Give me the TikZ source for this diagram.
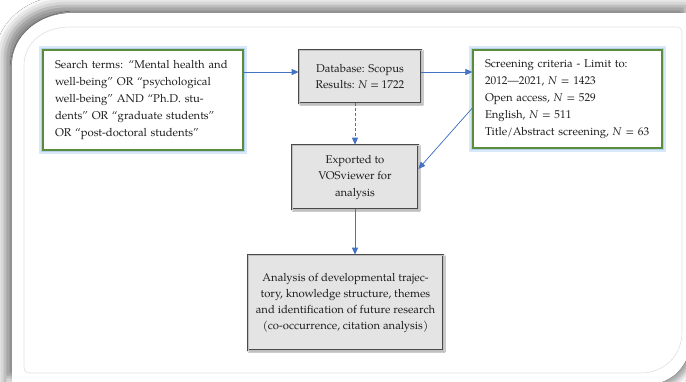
\documentclass[tikz,border=0pt]{standalone}
\usepackage{fontspec}
\setmainfont{texgyrepagella}[Extension=.otf,UprightFont=*-regular,ItalicFont=*-italic,BoldFont=*-bold,BoldItalicFont=*-bolditalic]
\usetikzlibrary{arrows.meta,shadows.blur}
\definecolor{arrowblue}{HTML}{4472C4}
\definecolor{boxgreen}{HTML}{5B8C3A}
\definecolor{glowblue}{HTML}{B4D2F0}
\definecolor{boxgray}{HTML}{E4E4E4}
\definecolor{boxedge}{HTML}{4A4A4A}
\definecolor{panelline}{HTML}{E0E0E0}
\definecolor{textcol}{HTML}{1E1E1E}
\begin{document}
\begin{tikzpicture}[x=1pt,y=-1pt,
  greenbox/.style={draw=boxgreen, line width=1.3pt, fill=white,
    preaction={draw=glowblue!50, line width=8pt},
    preaction={draw=glowblue, line width=4.5pt},
    inner sep=0pt, text=textcol, font=\fontsize{11.3}{17}\selectfont, align=left},
  graybox/.style={draw=boxedge, line width=0.7pt, double=gray!50, double distance=1pt,
    fill=boxgray, inner sep=0pt, text=textcol, align=center,
    blur shadow={shadow xshift=1.2pt, shadow yshift=-1.2pt, shadow blur radius=1.5pt, shadow opacity=40}},
  link/.style={draw=arrowblue, fill=arrowblue, line width=0.7pt, -{Triangle[width=6pt,length=7pt,fill=arrowblue]}},
  dashlink/.style={draw=arrowblue, line width=0.8pt, dash pattern=on 3pt off 2pt,
    -{Triangle[width=6pt,length=7pt,fill=arrowblue,color=arrowblue]}}
]
\useasboundingbox (0,0) rectangle (686,381);
\fill[white] (0,0) rectangle (686,381);
% panel shadows
\path[fill=white, blur shadow={shadow xshift=4pt, shadow yshift=-4pt, shadow blur radius=6pt, shadow opacity=40}]
  (12,395) -- (12,65) .. controls (12,35) and (40,13) .. (72,13) -- (692,13) -- (692,330)
  .. controls (692,362) and (676,381) .. (652,384) -- (12,384) -- cycle;
\path[fill=white, blur shadow={shadow xshift=-7pt, shadow yshift=7pt, shadow blur radius=10pt, shadow opacity=50}]
  (12,395) -- (12,65) .. controls (12,35) and (40,13) .. (72,13) -- (692,13) -- (692,330)
  .. controls (692,362) and (676,381) .. (652,384) -- (12,384) -- cycle;
\draw[panelline, line width=0.6pt]
  (24,366) -- (24,66) .. controls (24,42) and (44,27) .. (70,27) -- (676,27)
  .. controls (680,27) and (682,29) .. (682,33) -- (682,332)
  .. controls (682,356) and (664,373) .. (640,373) -- (30,373)
  .. controls (26,373) and (24,371) .. (24,366);
% boxes
\node[greenbox, minimum width=200pt, minimum height=100pt, text width=176pt] (b1) at (143,100)
  {Search terms: “Mental health and\\ well-being” OR “psychological\\ well-being” AND “Ph.D. stu-\\ dents” OR “graduate students”\\ OR “post-doctoral students”};
\node[graybox, minimum width=122pt, minimum height=53pt, font=\fontsize{11.3}{15.5}\selectfont] (b2) at (360,76.5)
  {Database: Scopus\\ Results: \textit{N} = 1722};
\node[greenbox, minimum width=189pt, minimum height=98pt, text width=165pt] (b3) at (567.5,99)
  {Screening criteria - Limit to:\\ 2012—2021, \textit{N} = 1423\\ Open access, \textit{N} = 529\\ English, \textit{N} = 511\\ Title/Abstract screening, \textit{N} = 63};
\node[graybox, minimum width=126pt, minimum height=64pt, font=\fontsize{11.3}{16.5}\selectfont] (b4) at (355,177)
  {Exported to\\ VOSviewer for\\ analysis};
\node[graybox, minimum width=195pt, minimum height=95pt, font=\fontsize{11.3}{16}\selectfont] (b5) at (345.5,302.5)
  {Analysis of developmental trajec-\\ tory, knowledge structure, themes\\ and identification of future research\\ (co-occurrence, citation analysis)};
% connectors
\coordinate (rowy) at (0,72);
\coordinate (diagy) at (0,108);
\draw[link] (b1.east |- rowy) -- (b2.west |- rowy);
\draw[link] (b2.east |- rowy) -- (b3.west |- rowy);
\draw[dashlink] (b4.north |- b2.south) -- (b4.north);
\draw[link] (b3.west |- diagy) -- ([yshift=8pt]b4.east);
\draw[link] (b4.south) -- (b4.south |- b5.north);
\end{tikzpicture}
\end{document}
